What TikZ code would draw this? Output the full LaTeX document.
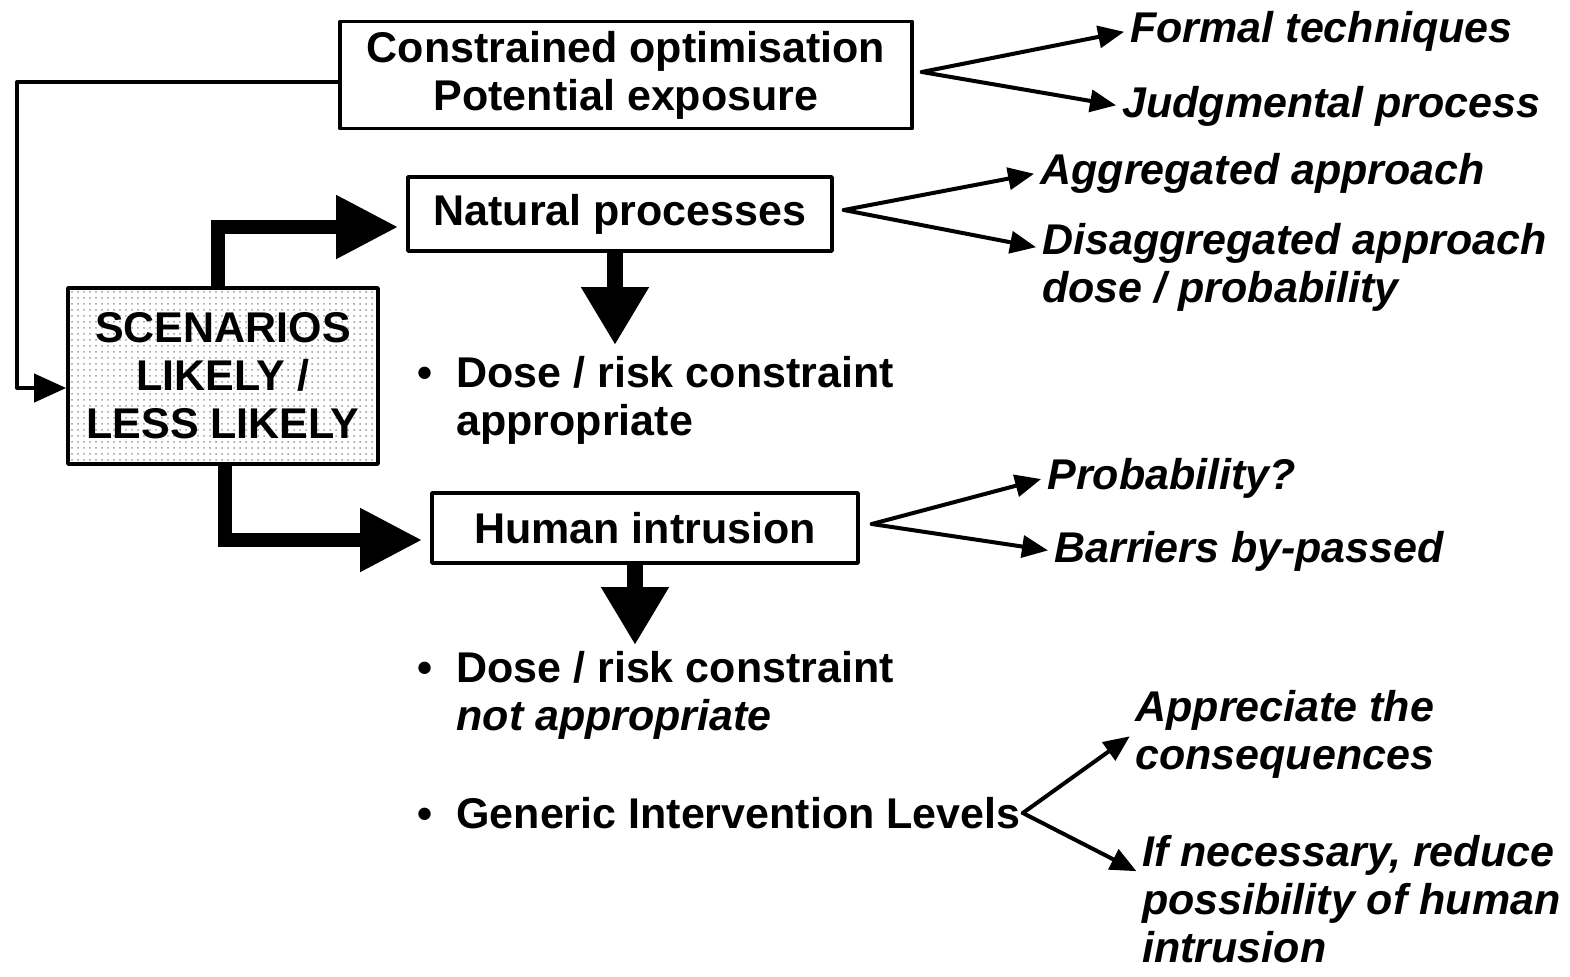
\documentclass[tikz,border=0pt]{standalone}
\usepackage{fontspec}
\setmainfont{Liberation Sans}
\usetikzlibrary{arrows.meta,patterns}

\newcommand\txt{\fontsize{21.5}{24}\selectfont\bfseries}

\tikzset{
  box/.style={draw, line width=1.8pt, inner sep=0pt, align=center, font=\txt},
  item/.style={inner sep=1pt, anchor=west, align=left, font=\txt\itshape},
  bul/.style={inner sep=1pt, anchor=west, font=\txt},
  fanarr/.style={line width=2pt, -{Triangle[length=13pt,width=11pt]}, shorten >=2pt},
  fbarr/.style={line width=2pt, -{Triangle[length=16pt,width=14pt]}},
  bigarr/.style={line width=7pt, line cap=butt, line join=miter, -{Triangle[length=31pt,width=30pt]}, shorten >=4pt},
  downarr/.style={line width=8pt, line cap=butt, -{Triangle[length=29pt,width=32pt]}}
}

\begin{document}
\begin{tikzpicture}[x=0.5pt, y=-0.5pt, line cap=round, line join=round]
\useasboundingbox (0,0) rectangle (1570,976);

\node[box, minimum width=286pt, minimum height=53.5pt] (con) at (626,75) {Constrained optimisation\\Potential exposure};
\node[box, minimum width=212pt, minimum height=37pt] (nat) at (620,214) {Natural processes};
\node[box, minimum width=155pt, minimum height=88pt, pattern=dots, pattern color=black!40] (scen) at (223,376) {SCENARIOS\\LIKELY /\\LESS LIKELY};
\node[box, minimum width=213pt, minimum height=35pt] (hum) at (645,528) {Human intrusion};

\node[item] (formal) at (1128,31) {Formal techniques};
\node[item] (judg) at (1120,106) {Judgmental process};
\node[item] (aggr) at (1038,173) {Aggregated approach};
\node[item] (disag) at (1040,267) {Disaggregated approach\\dose / probability};
\node[item] (prob) at (1045,478) {Probability?};
\node[item] (barr) at (1052,551) {Barriers by-passed};
\node[item] (appr) at (1133,734) {Appreciate the\\consequences};
\node[item] (ifnec) at (1140,899) {If necessary, reduce\\possibility of human\\intrusion};

\node[bul] (dose1) at (415,402) {\begin{tabular}{@{}l@{\hspace{12pt}}l@{}}\textbullet & Dose / risk constraint\\ & appropriate\end{tabular}};
\node[bul] (dose2) at (415,697) {\begin{tabular}{@{}l@{\hspace{12pt}}l@{}}\textbullet & Dose / risk constraint\\ & \textit{not appropriate}\end{tabular}};
\node[bul] (gen) at (415,813) {\textbullet\hspace{12pt}Generic Intervention Levels};

\coordinate (fb) at (17,388);
\coordinate (natdn) at (615,345);
\coordinate (humdn) at (635,645);

\draw[fbarr] ([yshift=-3.5pt]con.west) -| (fb) |- ([yshift=-6pt]scen.west);
\draw[bigarr] ([xshift=-2.5pt]scen.north) |- ([yshift=-6.5pt]nat.west);
\draw[bigarr] ([xshift=1pt]scen.south) |- ([yshift=-6pt]hum.west);
\draw[downarr] ([xshift=-2.5pt]nat.south) -- (natdn);
\draw[downarr] ([xshift=-5pt]hum.south) -- (humdn);

\draw[fanarr] ([xshift=4pt,yshift=1.5pt]con.east) -- (formal.west);
\draw[fanarr] ([xshift=4pt,yshift=1.5pt]con.east) -- (judg.west);
\draw[fanarr] ([xshift=5pt,yshift=2pt]nat.east) -- (aggr.west);
\draw[fanarr] ([xshift=5pt,yshift=2pt]nat.east) -- ([yshift=9.5pt]disag.west);
\draw[fanarr] ([xshift=6pt,yshift=2pt]hum.east) -- (prob.west);
\draw[fanarr] ([xshift=6pt,yshift=2pt]hum.east) -- (barr.west);
\draw[fanarr] (gen.east) -- (appr.west);
\draw[fanarr] (gen.east) -- ([yshift=13pt]ifnec.west);
\end{tikzpicture}
\end{document}
